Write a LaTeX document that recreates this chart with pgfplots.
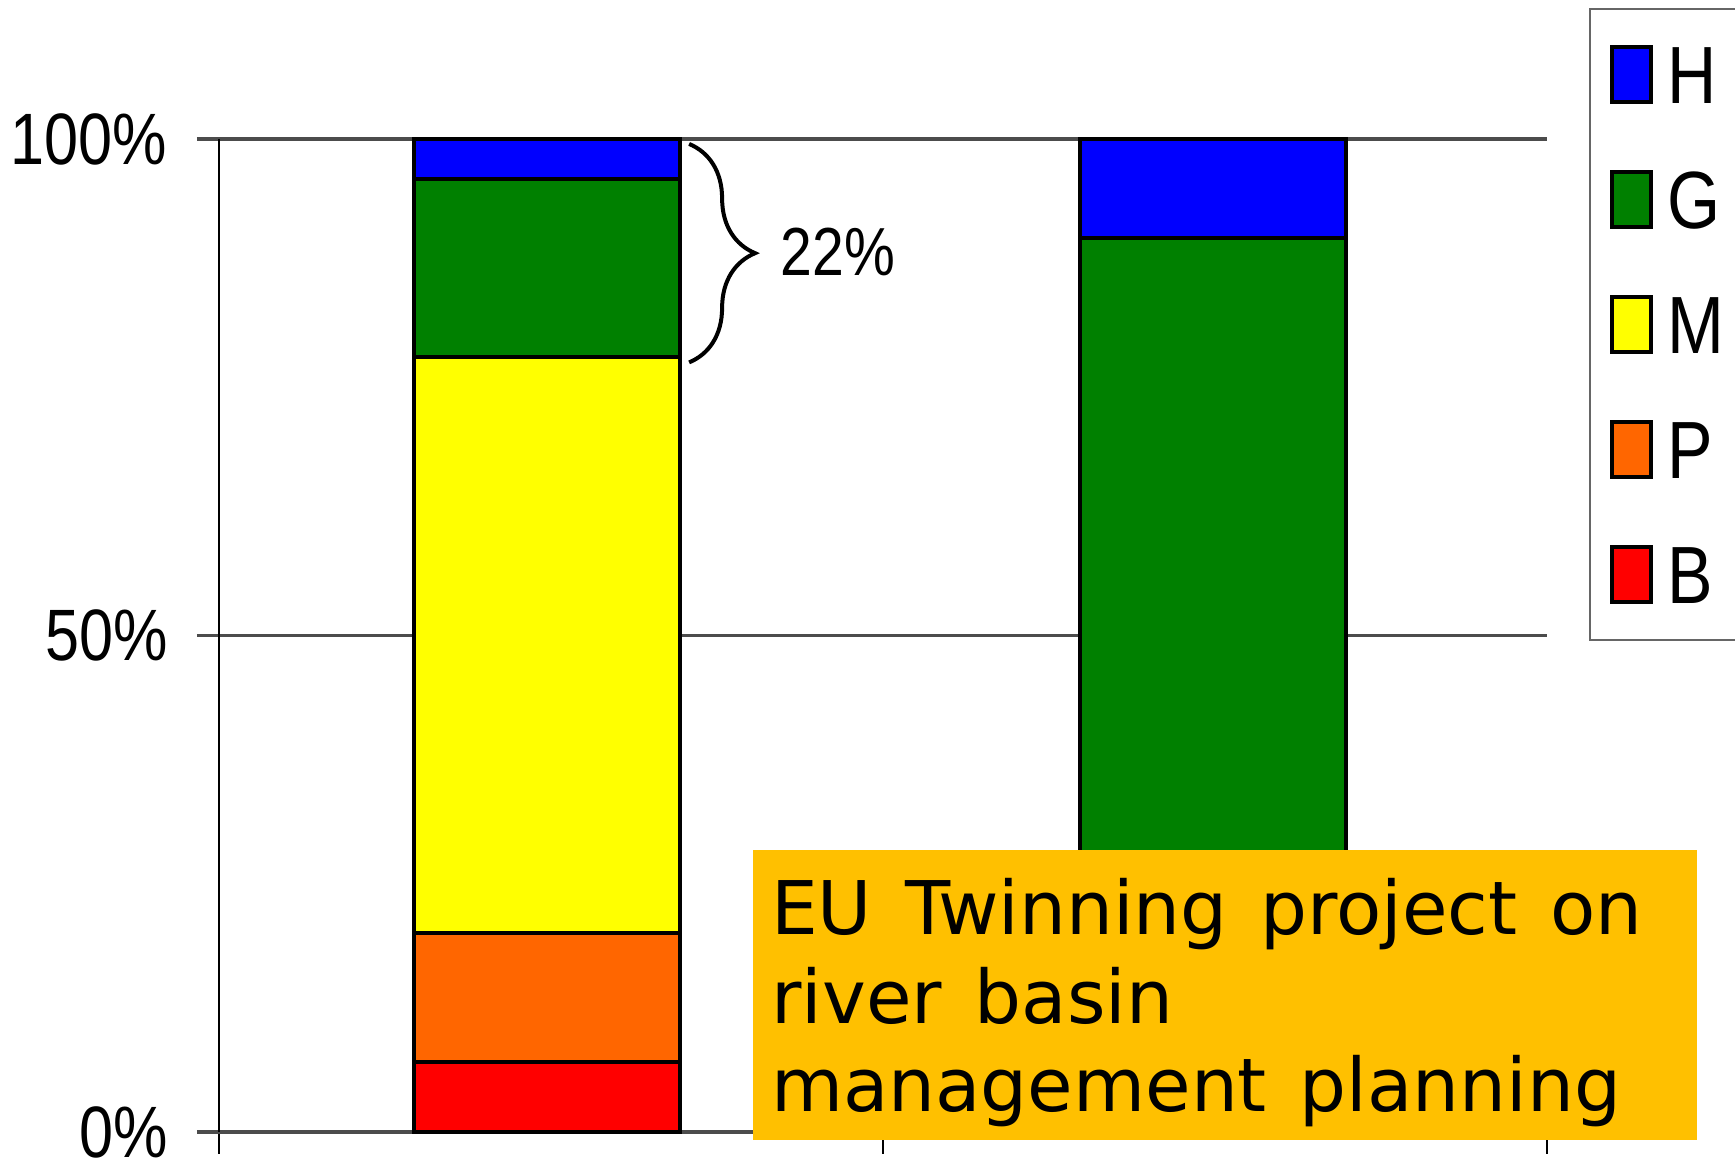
\documentclass[border=0pt]{standalone}
\usepackage{pgfplots}
\pgfplotsset{compat=1.18}
\usetikzlibrary{decorations.pathreplacing}
\usepackage{fontspec}
\setmainfont{Liberation Sans}
\newfontfamily\narrowfont[FakeStretch=0.84]{Liberation Sans}
\newfontfamily\boxfont[WordSpace=1.4]{DejaVu Sans}
\definecolor{cH}{HTML}{0000FF}
\definecolor{cG}{HTML}{008000}
\definecolor{cM}{HTML}{FFFF00}
\definecolor{cP}{HTML}{FF6600}
\definecolor{cB}{HTML}{FF0000}
\definecolor{boxorange}{HTML}{FFC000}
\newcommand{\bigfont}{\narrowfont\fontsize{18.2}{20}\selectfont}
\newcommand{\legfont}{\narrowfont\fontsize{20.3}{22}\selectfont}
\begin{document}
\begin{tikzpicture}
\path[use as bounding box] (0,0) rectangle (433.75pt,291pt);
\begin{axis}[
  at={(54.75pt,8pt)}, anchor=south west,
  scale only axis, width=332pt, height=248.25pt,
  xmin=0, xmax=2, ymin=0, ymax=100, clip=false,
  ybar stacked, bar width=0.402,
  axis x line=bottom, axis y line=left,
  x axis line style={draw=black!70, line width=0.8pt, -},
  y axis line style={draw=black, line width=0.4pt, -},
  xtick={0,1,2}, xticklabels={},
  xtick style={draw=black, line width=0.4pt},
  tick align=outside, major tick length=5.5pt,
  ytick={0,50,100}, yticklabels={0\%,50\%,100\%},
  ytick style={draw=black!70, line width=0.8pt},
  yticklabel style={font=\bigfont, inner sep=0pt, xshift=-7.2pt},
  ymajorgrids, major grid style={draw=black!70, line width=0.8pt},
  reverse legend,
  legend cell align=left,
  legend image code/.code={\draw[#1, draw=black, line width=1pt] (0pt,-6.875pt) rectangle (9.75pt,6.875pt);},
  legend style={at={(1.0316,1.1319)}, anchor=north west, draw=black!60, line width=0.6pt,
    font=\legfont, inner xsep=5pt, inner ysep=9pt, row sep=16.5pt, column sep=3.5pt,
    nodes={inner sep=0pt, text height=14.5pt, text depth=0pt}},
]
\addplot[fill=cB, draw=black, line width=1pt] coordinates {(0.494,7) (1.497,0)};
\addlegendentry{B}
\addplot[fill=cP, draw=black, line width=1pt] coordinates {(0.494,13) (1.497,0)};
\addlegendentry{P}
\addplot[fill=cM, draw=black, line width=1pt] coordinates {(0.494,58) (1.497,0)};
\addlegendentry{M}
\addplot[fill=cG, draw=black, line width=1pt] coordinates {(0.494,18) (1.497,90)};
\addlegendentry{G}
\addplot[fill=cH, draw=black, line width=1pt] coordinates {(0.494,4) (1.497,10)};
\addlegendentry{H}
\draw[decorate, decoration={brace, amplitude=16.5pt}, line width=1pt]
  (axis cs:0.708,99.5) -- (axis cs:0.708,77.5);
\node[font=\narrowfont\fontsize{17}{19}\selectfont, inner sep=0pt] at (axis cs:0.932,88.6) {22\%};
\end{axis}
\fill[boxorange] (188.25pt,6pt) rectangle (424.25pt,78.5pt);
\node[anchor=base west, inner sep=0pt, font=\boxfont\fontsize{18.5}{22}\selectfont] at (192.6pt,57.25pt) {EU Twinning project on};
\node[anchor=base west, inner sep=0pt, font=\boxfont\fontsize{18.5}{22}\selectfont] at (192.6pt,35.1pt) {river basin};
\node[anchor=base west, inner sep=0pt, font=\boxfont\fontsize{18.5}{22}\selectfont] at (192.6pt,13pt) {management planning};
\end{tikzpicture}
\end{document}
